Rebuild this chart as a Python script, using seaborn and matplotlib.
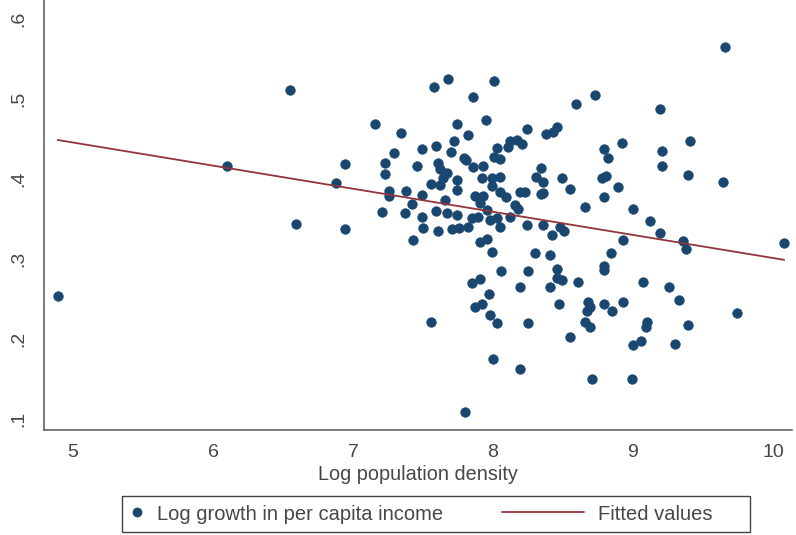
import numpy as np
import pandas as pd
import matplotlib
matplotlib.use("Agg")
import matplotlib.pyplot as plt
from matplotlib.lines import Line2D
from matplotlib.patches import Rectangle
from matplotlib.legend_handler import HandlerLine2D
import seaborn as sns

# Log population density (x) and log growth in per capita income (y)
log_density = [
    4.89, 6.10, 6.55, 6.59, 6.88, 6.94, 6.94, 7.16, 7.34, 7.29,
    7.23, 7.23, 7.26, 7.26, 7.21, 7.38, 7.46, 7.49, 7.59, 7.58,
    7.68, 7.74, 7.72, 7.70, 7.61, 7.62, 7.67, 7.64, 7.56, 7.62,
    7.74, 7.74, 7.49, 7.66, 7.42, 7.37, 7.49, 7.59, 7.67, 7.74,
    7.50, 7.61, 7.71, 7.43, 7.56, 7.80, 8.01, 7.86, 7.95, 7.82,
    7.79, 7.81, 7.86, 7.93, 8.03, 8.01, 8.05, 8.12, 8.17, 8.11,
    8.21, 8.24, 8.38, 8.43, 8.46, 7.92, 7.99, 8.05, 7.99, 7.87,
    7.93, 7.91, 8.05, 8.09, 8.19, 8.23, 8.16, 8.18, 7.85, 7.89,
    7.96, 7.98, 8.03, 8.05, 8.12, 7.76, 7.82, 7.91, 7.96, 7.99,
    8.06, 7.85, 7.91, 7.97, 7.87, 7.92, 7.98, 8.03, 8.00, 8.19,
    8.19, 8.24, 8.25, 8.25, 8.30, 8.34, 8.31, 8.36, 8.34, 8.36,
    8.36, 8.41, 8.42, 8.41, 8.47, 8.49, 8.55, 8.59, 8.73, 8.48,
    8.51, 8.46, 8.46, 8.49, 8.55, 8.61, 8.66, 8.68, 8.69, 8.67,
    8.66, 8.69, 8.71, 8.78, 8.81, 8.79, 8.82, 8.79, 8.79, 8.79,
    8.79, 8.84, 8.85, 8.89, 8.92, 8.93, 8.93, 8.99, 9.00, 9.00,
    9.06, 9.07, 9.10, 9.09, 9.12, 9.19, 9.21, 9.21, 9.41, 9.39,
    9.64, 9.66, 9.19, 9.36, 9.38, 9.26, 9.33, 9.39, 9.30, 9.74,
    10.08,
]
log_growth = [
    0.253, 0.416, 0.511, 0.343, 0.394, 0.418, 0.337, 0.468, 0.457, 0.432,
    0.419, 0.406, 0.384, 0.378, 0.358, 0.384, 0.416, 0.437, 0.441, 0.514,
    0.524, 0.468, 0.447, 0.433, 0.419, 0.412, 0.407, 0.401, 0.393, 0.392,
    0.398, 0.386, 0.379, 0.373, 0.368, 0.357, 0.352, 0.359, 0.357, 0.354,
    0.338, 0.334, 0.337, 0.323, 0.221, 0.108, 0.522, 0.502, 0.473, 0.454,
    0.426, 0.423, 0.414, 0.416, 0.438, 0.427, 0.424, 0.447, 0.448, 0.439,
    0.443, 0.462, 0.456, 0.458, 0.464, 0.401, 0.401, 0.402, 0.391, 0.378,
    0.378, 0.369, 0.383, 0.377, 0.383, 0.383, 0.367, 0.362, 0.351, 0.352,
    0.361, 0.348, 0.351, 0.339, 0.352, 0.338, 0.339, 0.321, 0.324, 0.308,
    0.284, 0.269, 0.274, 0.256, 0.239, 0.243, 0.229, 0.219, 0.174, 0.162,
    0.264, 0.342, 0.284, 0.219, 0.307, 0.413, 0.402, 0.396, 0.381, 0.382,
    0.342, 0.304, 0.329, 0.264, 0.243, 0.401, 0.387, 0.493, 0.504, 0.339,
    0.334, 0.287, 0.276, 0.273, 0.202, 0.271, 0.364, 0.246, 0.239, 0.234,
    0.221, 0.214, 0.149, 0.401, 0.403, 0.437, 0.426, 0.377, 0.290, 0.286,
    0.243, 0.307, 0.234, 0.389, 0.444, 0.323, 0.246, 0.149, 0.362, 0.192,
    0.197, 0.271, 0.221, 0.214, 0.347, 0.487, 0.434, 0.416, 0.447, 0.404,
    0.396, 0.564, 0.332, 0.322, 0.312, 0.264, 0.248, 0.217, 0.193, 0.232,
    0.319,
]

x_ticks = [5, 6, 7, 8, 9, 10]
y_ticks = [0.1, 0.2, 0.3, 0.4, 0.5, 0.6]
y_tick_labels = [".1", ".2", ".3", ".4", ".5", ".6"]

NAVY = "#1a476f"
MAROON = "#90353b"
INK = "#474747"

sns.set_style("white")
plt.rcParams["font.family"] = ["Liberation Sans", "DejaVu Sans"]

df = pd.DataFrame({"density": log_density, "growth": log_growth})

W, H = 796, 535
fig = plt.figure(figsize=(W / 100, H / 100), dpi=100)
ax = fig.add_axes([44 / W, 105 / H, 748 / W, 430 / H])

sns.scatterplot(data=df, x="density", y="growth", ax=ax, color=NAVY,
                s=50, edgecolor=NAVY, linewidth=0.3, zorder=3, legend=False)
sns.regplot(data=df, x="density", y="growth", ax=ax, scatter=False,
            ci=None, truncate=True,
            line_kws={"color": MAROON, "lw": 1.3, "zorder": 4})

ax.set_xlim(4.793, 10.136)
ax.set_ylim(0.0856, 0.623)
ax.set_xticks(x_ticks)
ax.set_xticklabels([str(t) for t in x_ticks])
ax.set_yticks(y_ticks)
ax.set_yticklabels(y_tick_labels, rotation=90, va="center")

for side in ("top", "right"):
    ax.spines[side].set_visible(False)
for side in ("left", "bottom"):
    ax.spines[side].set_color("#555555")
    ax.spines[side].set_linewidth(1.1)

ax.tick_params(axis="both", which="major", direction="out", length=5,
               width=1.0, color="#555555", labelcolor=INK, labelsize=14)
ax.tick_params(axis="x", pad=5)
ax.tick_params(axis="y", pad=7)
ax.set_xlabel("Log population density", fontsize=14.3, color=INK, labelpad=3)
ax.set_ylabel("")


class LongLineHandler(HandlerLine2D):
    """Legend key line that reaches further left than the handle box."""

    def create_artists(self, legend, orig_handle, xdescent, ydescent,
                       width, height, fontsize, trans):
        y = height / 2 - ydescent
        line = Line2D([-xdescent - 49, width - xdescent - 2], [y, y],
                      color=orig_handle.get_color(),
                      linewidth=orig_handle.get_linewidth())
        line.set_transform(trans)
        return [line]


dot = Line2D([], [], linestyle="none", marker="o", markersize=6,
             color=NAVY, markeredgecolor=NAVY)
fit = Line2D([], [], color=MAROON, linewidth=1.3)

# legend box outline
fig.patches.append(Rectangle((122 / W, 3 / H), 628 / W, 36 / H,
                             transform=fig.transFigure, fill=False,
                             edgecolor="#444444", linewidth=1.0))

leg = fig.legend([dot, fit],
                 ["Log growth in per capita income", "Fitted values"],
                 loc="center left", ncol=2,
                 bbox_to_anchor=(122 / W, 21 / H),
                 fontsize=14.5, handlelength=0.8, handletextpad=0.6,
                 columnspacing=6.3, borderpad=0.35, borderaxespad=0,
                 frameon=False, handler_map={fit: LongLineHandler()})
for txt in leg.get_texts():
    txt.set_color(INK)

fig.savefig("out.png", dpi=100, facecolor="white")
